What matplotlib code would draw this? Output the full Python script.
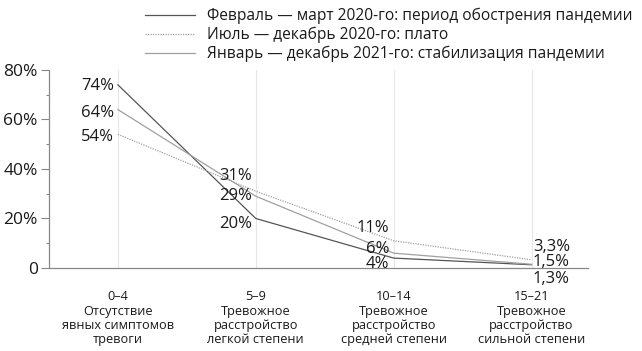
import matplotlib.pyplot as plt
from matplotlib.ticker import FixedLocator

plt.rcParams['font.family'] = ['Open Sans', 'DejaVu Sans']

# categories (score ranges + description)
categories = ['0–4\nОтсутствие\nявных симптомов\nтревоги',
              '5–9\nТревожное\nрасстройство\nлегкой степени',
              '10–14\nТревожное\nрасстройство\nсредней степени',
              '15–21\nТревожное\nрасстройство\nсильной степени']

feb_mar_2020 = [74, 20, 4, 1.3]
jul_dec_2020 = [54, 31, 11, 3.3]
jan_dec_2021 = [64, 29, 6, 1.5]

series_names = ['Февраль — март 2020-го: период обострения пандемии',
                'Июль — декабрь 2020-го: плато',
                'Январь — декабрь 2021-го: стабилизация пандемии']

# vertical label offsets in pixels (labels sit a bit apart so they don't overlap)
off_feb = [-1, -6, -6, -14]
off_jul = [-3, 15, 13, 13]
off_jan = [-3, 0, 4, 2]

fig = plt.figure(figsize=(6.42, 3.51), dpi=100)
ax = fig.add_axes([0.0763, 0.2365, 0.8397, 0.5641])

x = list(range(len(categories)))
styles = [dict(color='#555555', lw=0.9, ls='-'),
          dict(color='#a0a0a0', lw=0.9, ls=(0, (1.0, 1.0))),
          dict(color='#a0a0a0', lw=0.9, ls='-')]
series = [feb_mar_2020, jul_dec_2020, jan_dec_2021]
offsets = [off_feb, off_jul, off_jan]

lines = []
for vals, st, name in zip(series, styles, series_names):
    ln, = ax.plot(x, vals, label=name, **st)
    lines.append(ln)

def fmt(v):
    return ('%g' % v).replace('.', ',') + '%'

for vals, offs in zip(series, offsets):
    for i, (v, o) in enumerate(zip(vals, offs)):
        if i == len(x) - 1:
            ax.annotate(fmt(v), (i, v), xytext=(1, o * 0.72), textcoords='offset points',
                        ha='left', va='center', fontsize=12, color='#1a1a1a')
        else:
            ax.annotate(fmt(v), (i, v), xytext=(-3, o * 0.72), textcoords='offset points',
                        ha='right', va='center', fontsize=12, color='#1a1a1a')

for xi in x:
    ax.axvline(xi, color='#e6e6e6', lw=0.8, zorder=0)

ax.set_xlim(-0.5, 3.41)
ax.set_ylim(0, 80)
ax.set_yticks([0, 20, 40, 60, 80])
ax.set_yticklabels(['0', '20%', '40%', '60%', '80%'])
ax.yaxis.set_minor_locator(FixedLocator([10, 30, 50, 70]))
ax.tick_params(axis='y', which='major', length=6, width=0.8, color='#888888',
               labelsize=12.5, labelcolor='#1a1a1a', pad=2)
ax.tick_params(axis='y', which='minor', length=2.5, width=0.8, color='#888888')
ax.set_xticks(x)
ax.set_xticklabels(categories, fontsize=9.2, linespacing=1.13, color='#1a1a1a')
ax.tick_params(axis='x', length=0, pad=16)

for s in ['top', 'right']:
    ax.spines[s].set_visible(False)
for s in ['left', 'bottom']:
    ax.spines[s].set_color('#888888')
    ax.spines[s].set_linewidth(0.9)

fig.legend(handles=lines, loc='upper right', bbox_to_anchor=(1.0, 1.005), frameon=False,
           fontsize=11.2, handlelength=3.2, handletextpad=0.8, labelspacing=0.18,
           borderaxespad=0.2, labelcolor='#1a1a1a')

fig.savefig('out.png', dpi=100)
